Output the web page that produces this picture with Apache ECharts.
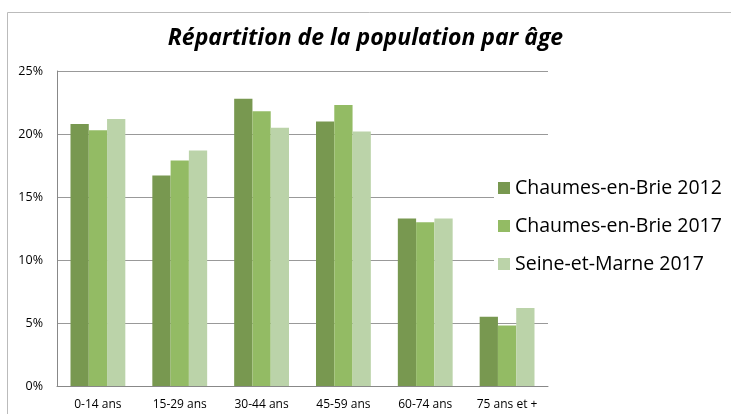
<!DOCTYPE html>
<html>
<head>
    <meta charset="UTF-8"/>
    <title>Répartition de la population par âge</title>
    <script src="https://cdn.jsdelivr.net/npm/echarts@6/dist/echarts.min.js"></script>
    <style>
        body { margin: 0; background: #fff; }
    </style>
</head>
<body>
<div id="main" style="width: 731px;height:414px;"></div>
<script>
    // catégories et valeurs (%)
    var categories = ['0-14 ans', '15-29 ans', '30-44 ans', '45-59 ans', '60-74 ans', '75 ans et +'];
    var chaumes2012 = [20.8, 16.7, 22.8, 21.0, 13.3, 5.5];
    var chaumes2017 = [20.3, 17.9, 21.8, 22.3, 13.0, 4.8];
    var seineEtMarne2017 = [21.2, 18.7, 20.5, 20.2, 13.3, 6.2];
    var seriesNames = ['Chaumes-en-Brie 2012', 'Chaumes-en-Brie 2017', 'Seine-et-Marne 2017'];
    var colors = ['#789850', '#93bb64', '#bbd3a9'];

    var myChart = echarts.init(document.getElementById('main'));

    var option = {
        animation: false,
        color: colors,
        textStyle: { fontFamily: 'Open Sans' },
        title: {
            text: 'Répartition de la population par âge',
            left: 'center',
            top: 22,
            textStyle: {
                fontFamily: 'Open Sans',
                fontSize: 23,
                fontWeight: 'bold',
                fontStyle: 'italic',
                color: '#000'
            }
        },
        // cadre du graphique (bord droit hors champ)
        graphic: [{
            type: 'rect',
            shape: { x: 7.5, y: 12.5, width: 740, height: 420 },
            style: { fill: 'none', stroke: '#bbb', lineWidth: 1 },
            silent: true
        }],
        legend: {
            orient: 'vertical',
            left: 494,
            top: 171,
            itemWidth: 12,
            itemHeight: 12,
            itemGap: 12,
            icon: 'rect',
            backgroundColor: '#fff',
            padding: [4, 4, 4, 4],
            textStyle: { fontSize: 19.5, lineHeight: 26, color: '#000', fontFamily: 'Open Sans' },
            data: seriesNames
        },
        grid: {
            left: 57,
            right: 183,
            top: 71,
            bottom: 28,
            containLabel: false
        },
        xAxis: {
            type: 'category',
            data: categories,
            axisLine: { lineStyle: { color: '#888' } },
            axisTick: { show: false },
            axisLabel: { color: '#000', fontSize: 12, margin: 13, interval: 0 }
        },
        yAxis: {
            type: 'value',
            min: 0,
            max: 25,
            interval: 5,
            axisLine: { show: true, lineStyle: { color: '#888' } },
            axisTick: { show: false },
            splitLine: { lineStyle: { color: '#999' } },
            axisLabel: {
                color: '#000',
                fontSize: 12.5,
                margin: 14,
                formatter: '{value}%'
            }
        },
        series: [
            {
                name: seriesNames[0],
                type: 'bar',
                data: chaumes2012,
                barGap: '0%',
                barCategoryGap: '33%',
                z: 1
            },
            {
                name: seriesNames[1],
                type: 'bar',
                data: chaumes2017,
                z: 1
            },
            {
                name: seriesNames[2],
                type: 'bar',
                data: seineEtMarne2017,
                z: 1
            }
        ]
    };

    myChart.setOption(option);
</script>
</body>
</html>
